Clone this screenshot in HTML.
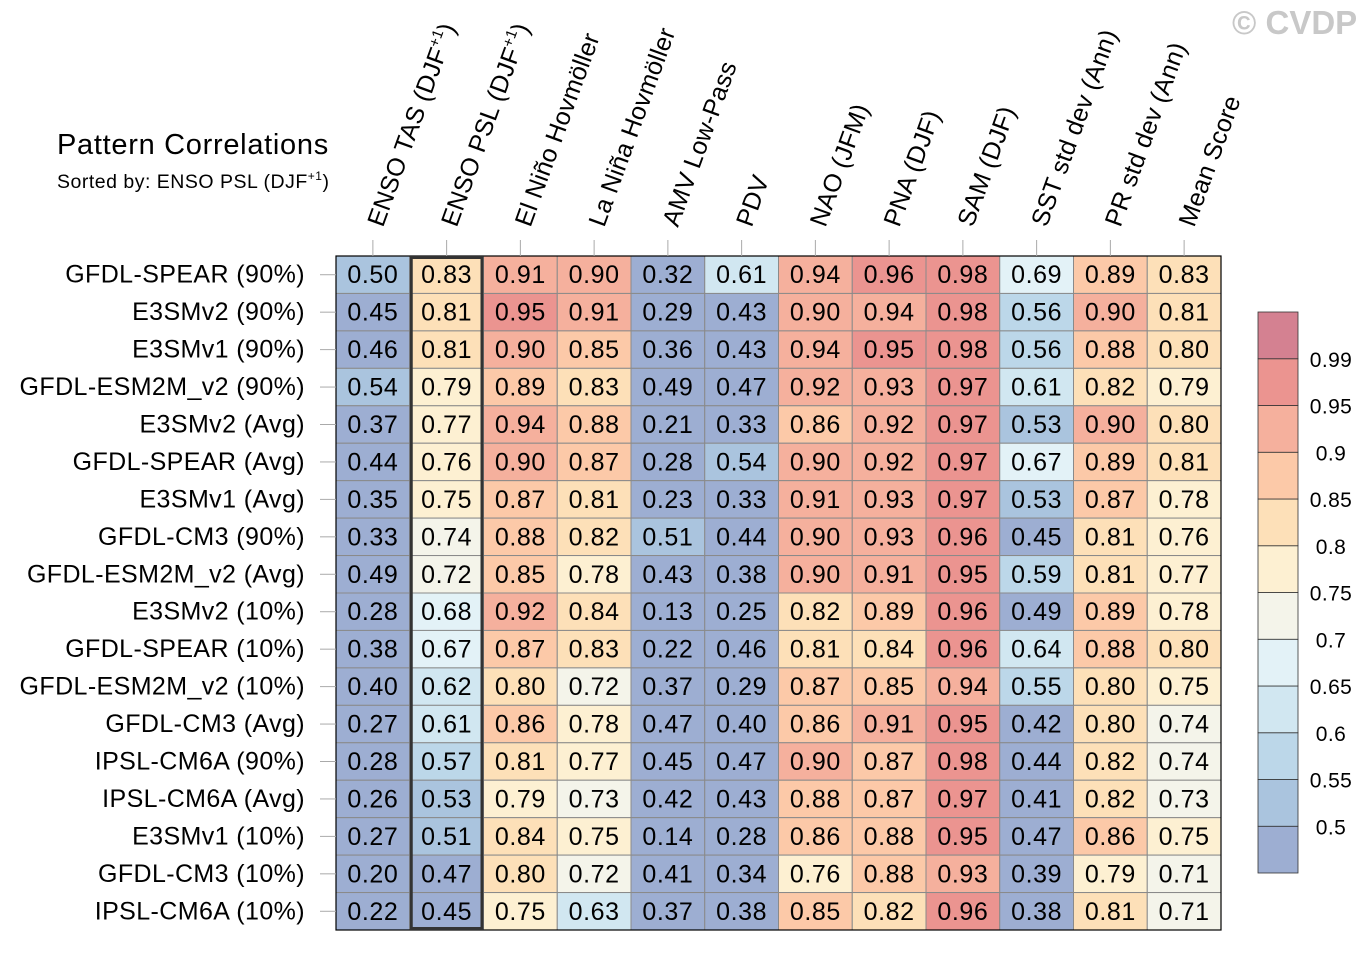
<!DOCTYPE html>
<html><head><meta charset="utf-8"><style>
body{margin:0;background:#fff;}
svg text{font-family:"Liberation Sans",Arial,sans-serif;}
</style></head><body>
<svg id="chart" width="1372" height="951" viewBox="0 0 1372 951" xmlns="http://www.w3.org/2000/svg">
<text x="57" y="154" font-size="29" letter-spacing="0.7">Pattern Correlations</text>
<text x="57" y="188" font-size="19.5" letter-spacing="0.5">Sorted by: ENSO PSL (DJF<tspan font-size="12" dy="-8">+1</tspan><tspan dy="8">)</tspan></text>
<text x="1232" y="34" font-size="33" font-weight="bold" fill="#c8c8c8">© CVDP</text>
<g id="cells"></g><g id="labels"></g><g id="cbar"></g>
</svg>
<script>
const columns = ["ENSO TAS (DJF+1)","ENSO PSL (DJF+1)","El Niño Hovmöller","La Niña Hovmöller","AMV Low-Pass","PDV","NAO (JFM)","PNA (DJF)","SAM (DJF)","SST std dev (Ann)","PR std dev (Ann)","Mean Score"];
const models = ["GFDL-SPEAR (90%)","E3SMv2 (90%)","E3SMv1 (90%)","GFDL-ESM2M_v2 (90%)","E3SMv2 (Avg)","GFDL-SPEAR (Avg)","E3SMv1 (Avg)","GFDL-CM3 (90%)","GFDL-ESM2M_v2 (Avg)","E3SMv2 (10%)","GFDL-SPEAR (10%)","GFDL-ESM2M_v2 (10%)","GFDL-CM3 (Avg)","IPSL-CM6A (90%)","IPSL-CM6A (Avg)","E3SMv1 (10%)","GFDL-CM3 (10%)","IPSL-CM6A (10%)"];
const values = [
[0.50,0.83,0.91,0.90,0.32,0.61,0.94,0.96,0.98,0.69,0.89,0.83],
[0.45,0.81,0.95,0.91,0.29,0.43,0.90,0.94,0.98,0.56,0.90,0.81],
[0.46,0.81,0.90,0.85,0.36,0.43,0.94,0.95,0.98,0.56,0.88,0.80],
[0.54,0.79,0.89,0.83,0.49,0.47,0.92,0.93,0.97,0.61,0.82,0.79],
[0.37,0.77,0.94,0.88,0.21,0.33,0.86,0.92,0.97,0.53,0.90,0.80],
[0.44,0.76,0.90,0.87,0.28,0.54,0.90,0.92,0.97,0.67,0.89,0.81],
[0.35,0.75,0.87,0.81,0.23,0.33,0.91,0.93,0.97,0.53,0.87,0.78],
[0.33,0.74,0.88,0.82,0.51,0.44,0.90,0.93,0.96,0.45,0.81,0.76],
[0.49,0.72,0.85,0.78,0.43,0.38,0.90,0.91,0.95,0.59,0.81,0.77],
[0.28,0.68,0.92,0.84,0.13,0.25,0.82,0.89,0.96,0.49,0.89,0.78],
[0.38,0.67,0.87,0.83,0.22,0.46,0.81,0.84,0.96,0.64,0.88,0.80],
[0.40,0.62,0.80,0.72,0.37,0.29,0.87,0.85,0.94,0.55,0.80,0.75],
[0.27,0.61,0.86,0.78,0.47,0.40,0.86,0.91,0.95,0.42,0.80,0.74],
[0.28,0.57,0.81,0.77,0.45,0.47,0.90,0.87,0.98,0.44,0.82,0.74],
[0.26,0.53,0.79,0.73,0.42,0.43,0.88,0.87,0.97,0.41,0.82,0.73],
[0.27,0.51,0.84,0.75,0.14,0.28,0.86,0.88,0.95,0.47,0.86,0.75],
[0.20,0.47,0.80,0.72,0.41,0.34,0.76,0.88,0.93,0.39,0.79,0.71],
[0.22,0.45,0.75,0.63,0.37,0.38,0.85,0.82,0.96,0.38,0.81,0.71]];
const levels = [0.5,0.55,0.6,0.65,0.7,0.75,0.8,0.85,0.9,0.95,0.99];
const levelLabels = ["0.5","0.55","0.6","0.65","0.7","0.75","0.8","0.85","0.9","0.95","0.99"];
const palette = ["#9daed2","#aac4de","#bcd7e9","#d1e7f1","#e3f2f7","#f4f4ea","#fdf0d2","#fde0b8","#fcc9a8","#f5b09d","#eb9490","#d48191"];
const sortedCol = 1;

const NS="http://www.w3.org/2000/svg";
const X0=336,X1=1221,Y0=256,Y1=930;
const cw=(X1-X0)/columns.length, rh=(Y1-Y0)/models.length;
const xs=i=>X0+i*cw, ys=j=>Y0+j*rh;
function colorOf(v){let k=0;while(k<levels.length&&v>=levels[k]-1e-9)k++;return palette[k];}
function mk(tag,attrs,parent){const e=document.createElementNS(NS,tag);for(const k in attrs)e.setAttribute(k,attrs[k]);parent.appendChild(e);return e;}
const gc=document.getElementById('cells'), gl=document.getElementById('labels'), gb=document.getElementById('cbar');
values.forEach((row,j)=>row.forEach((v,i)=>{
  const r=mk('rect',{x:xs(i),y:ys(j),width:cw,height:rh,fill:colorOf(v),stroke:'#8a8a8a','stroke-width':1},gc);
  
  
  const t=mk('text',{x:xs(i)+cw/2,y:ys(j)+rh/2+8.5,'font-size':25,'letter-spacing':0.6,'text-anchor':'middle'},gc);
  
  
  t.textContent=v.toFixed(2);
}));
const border=mk('rect',{x:X0,y:Y0,width:X1-X0,height:Y1-Y0,fill:'none',stroke:'#000','stroke-width':1.2},gc);


const hl=mk('rect',{x:xs(sortedCol)+1.5,y:Y0+1.5,width:cw-3,height:Y1-Y0-3,fill:'none',stroke:'#333','stroke-width':3},gc);


models.forEach((m,j)=>{
  const cy=ys(j)+rh/2;
  const tk=mk('line',{x1:320,x2:X0,y1:cy,y2:cy,stroke:'#aaa','stroke-width':1},gl);
  
  
  const t=mk('text',{x:305,y:cy+8,'font-size':25,'letter-spacing':0.4,'text-anchor':'end'},gl);
  
  
  t.textContent=m;
});
columns.forEach((c,i)=>{
  const cx=xs(i)+cw/2;
  const tk=mk('line',{x1:cx,x2:cx,y1:240,y2:Y0,stroke:'#aaa','stroke-width':1},gl);
  
  
  const t=mk('text',{x:cx+10,y:228,'font-size':25,'letter-spacing':0.2,transform:`rotate(-70 ${cx+10} 228)`},gl);
  
  
  if(c.endsWith('(DJF+1)')){
    t.textContent=c.replace('(DJF+1)','(DJF');
    const s=mk('tspan',{'font-size':15,dy:-10},t);s.textContent='+1';
    const s2=mk('tspan',{dy:10},t);s2.textContent=')';
  } else t.textContent=c;
});
const BX=1258,BW=40,BY0=312,BY1=873,bh=(BY1-BY0)/palette.length;
palette.forEach((p,k)=>{
  const y=BY1-(k+1)*bh;
  const r=mk('rect',{x:BX,y:y,width:BW,height:bh,fill:p,stroke:'#333','stroke-width':0.8},gb);
  
  
});
levels.forEach((l,k)=>{
  const y=BY1-(k+1)*bh;
  const t=mk('text',{x:1331,y:y+8,'font-size':21,'letter-spacing':0.4,'text-anchor':'middle'},gb);
  
  
  t.textContent=levelLabels[k];
});
</script>
</body></html>
